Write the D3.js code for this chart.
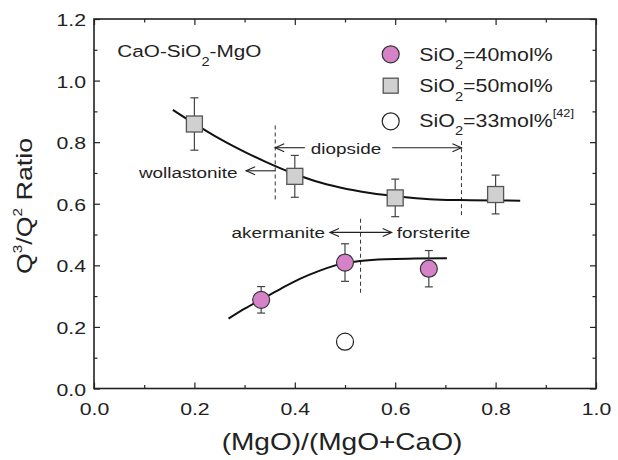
<!DOCTYPE html>
<html><head><meta charset="utf-8">
<script src="https://cdn.jsdelivr.net/npm/d3@7"></script>
<style>
html,body{margin:0;padding:0;background:#fff}
text{font-family:"Liberation Sans",Arial,Helvetica,sans-serif;fill:#222;white-space:pre}
</style>
</head><body>
<svg id="chart" width="618" height="460"></svg>
<script>
// Q3/Q2 ratio against MgO/(MgO+CaO) in CaO-SiO2-MgO glasses
const xTickValues = [0, 0.2, 0.4, 0.6, 0.8, 1.0];
const xTickLabels = ["0.0", "0.2", "0.4", "0.6", "0.8", "1.0"];
const yTickValues = [0, 0.2, 0.4, 0.6, 0.8, 1.0, 1.2];
const yTickLabels = ["0.0", "0.2", "0.4", "0.6", "0.8", "1.0", "1.2"];

// SiO2 = 40 mol%
const si40X = [0.333, 0.5, 0.667];
const si40Y = [0.288, 0.409, 0.389];
const si40Err = [0.043, 0.061, 0.059];

// SiO2 = 50 mol%
const si50X = [0.2, 0.4, 0.6, 0.8];
const si50Y = [0.859, 0.689, 0.619, 0.630];
const si50Err = [0.085, 0.068, 0.061, 0.063];

// SiO2 = 33 mol% [42]
const si33X = [0.5];
const si33Y = [0.152];

// guide curves through each series
const fit50X = [0.157, 0.199, 0.241, 0.291, 0.341, 0.390, 0.440, 0.490, 0.550, 0.610, 0.669, 0.731, 0.849];
const fit50Y = [0.905, 0.861, 0.820, 0.776, 0.737, 0.703, 0.674, 0.653, 0.635, 0.623, 0.615, 0.612, 0.610];
const fit40X = [0.268, 0.301, 0.333, 0.371, 0.410, 0.450, 0.490, 0.530, 0.580, 0.639, 0.703];
const fit40Y = [0.227, 0.260, 0.289, 0.323, 0.356, 0.383, 0.404, 0.414, 0.420, 0.422, 0.423];

// phase-field boundaries (dashed verticals)
const boundaryX  = [0.361, 0.732, 0.531];
const boundaryLo = [0.614, 0.563, 0.311];
const boundaryHi = [0.859, 0.810, 0.557];

const svg = d3.select("#chart");
const x = d3.scaleLinear().domain([0, 1]).range([94, 596]);
const y = d3.scaleLinear().domain([0, 1.2]).range([388.5, 19]);

const SX = 1.22;      // horizontal stretch of the lettering
const INK = "#222";

// text with optional sub/superscript pieces
function label(parent, px, py, parts, size, anchor, rot) {
  const tr = `translate(${px},${py})` + (rot ? ` rotate(${rot})` : "") + ` scale(${SX},1)`;
  const t = parent.append("text")
    .attr("transform", tr)
    .attr("text-anchor", anchor || "start")
    .attr("font-size", size);
  let cur = 0;
  parts.forEach(p => {
    const part = typeof p === "string" ? { t: p, s: 0 } : p;
    const ts = t.append("tspan").text(part.t).attr("dy", part.s - cur);
    if (part.size) ts.attr("font-size", part.size);
    cur = part.s;
  });
  return t;
}

// ---- axes (inward ticks on all four sides)
function styleAxis(g) {
  g.select(".domain").remove();
  g.selectAll(".tick line").attr("stroke", INK).attr("stroke-width", 1.2);
}
const minorX = [0.1, 0.3, 0.5, 0.7, 0.9];
const minorY = [0.1, 0.3, 0.5, 0.7, 0.9, 1.1];

const gB = svg.append("g").attr("transform", `translate(0,${y(0)})`)
  .call(d3.axisBottom(x).tickValues(xTickValues).tickSize(-6).tickPadding(0)
    .tickFormat((d, i) => xTickLabels[i]));
styleAxis(gB);
gB.selectAll(".tick text")
  .attr("y", null).attr("dy", null)
  .attr("font-size", 17).attr("font-family", null)
  .attr("transform", "translate(0,26) scale(1.25,1)")
  .attr("text-anchor", "middle").attr("fill", INK);

const gL = svg.append("g").attr("transform", `translate(${x(0)},0)`)
  .call(d3.axisLeft(y).tickValues(yTickValues).tickSize(-6).tickPadding(0)
    .tickFormat((d, i) => yTickLabels[i]));
styleAxis(gL);
gL.selectAll(".tick text")
  .attr("x", null).attr("dy", null)
  .attr("font-size", 17).attr("font-family", null)
  .attr("transform", "translate(-8,6.5) scale(1.25,1)")
  .attr("text-anchor", "end").attr("fill", INK);

const gT = svg.append("g").attr("transform", `translate(0,${y(1.2)})`)
  .call(d3.axisTop(x).tickValues(xTickValues).tickSize(-6).tickFormat(""));
styleAxis(gT);
const gR = svg.append("g").attr("transform", `translate(${x(1)},0)`)
  .call(d3.axisRight(y).tickValues(yTickValues).tickSize(-6).tickFormat(""));
styleAxis(gR);

[[d3.axisBottom(x), `translate(0,${y(0)})`, minorX],
 [d3.axisTop(x), `translate(0,${y(1.2)})`, minorX],
 [d3.axisLeft(y), `translate(${x(0)},0)`, minorY],
 [d3.axisRight(y), `translate(${x(1)},0)`, minorY]].forEach(([ax, tr, vals]) => {
  const g = svg.append("g").attr("transform", tr)
    .call(ax.tickValues(vals).tickSize(-3.5).tickFormat(""));
  styleAxis(g);
});

svg.append("rect")
  .attr("x", x(0)).attr("y", y(1.2))
  .attr("width", x(1) - x(0)).attr("height", y(0) - y(1.2))
  .attr("fill", "none").attr("stroke", INK).attr("stroke-width", 1.6);

// ---- axis titles
label(svg, 342, 450, ["(MgO)/(MgO+CaO)"], 23, "middle");
label(svg, 32, 206, ["Q", { t: "3", s: -10, size: 12.5 }, { t: "/Q", s: 0 },
  { t: "2", s: -10, size: 12.5 }, { t: " Ratio", s: 0 }], 22, "middle", -90);

// ---- phase boundaries and labels
const plot = svg.append("g");
boundaryX.forEach((bx, i) => {
  plot.append("line")
    .attr("x1", x(bx)).attr("x2", x(bx))
    .attr("y1", y(boundaryLo[i])).attr("y2", y(boundaryHi[i]))
    .attr("stroke", "#333").attr("stroke-width", 1)
    .attr("stroke-dasharray", "4,3");
});

function arrow(x0, x1, yy, headL, headR) {
  const py = y(yy), a = x(x0), b = x(x1);
  plot.append("line").attr("x1", a).attr("x2", b).attr("y1", py).attr("y2", py)
    .attr("stroke", INK).attr("stroke-width", 1.1);
  const head = (tip, dir) => plot.append("path")
    .attr("d", `M${tip + dir * 9},${py - 4}L${tip},${py}L${tip + dir * 9},${py + 4}`)
    .attr("fill", "none").attr("stroke", INK).attr("stroke-width", 1.1);
  if (headL) head(a, 1);
  if (headR) head(b, -1);
}
arrow(0.303, 0.361, 0.707, true, false);   // wollastonite
arrow(0.361, 0.420, 0.782, true, false);   // diopside, left
arrow(0.594, 0.732, 0.782, false, true);   // diopside, right
arrow(0.470, 0.593, 0.507, true, true);    // akermanite / forsterite

label(plot, x(0.286), y(0.685), ["wollastonite"], 15.5, "end");
label(plot, x(0.432), y(0.762), ["diopside"], 15.5, "start");
label(plot, x(0.460), y(0.488), ["akermanite"], 15.5, "end");
label(plot, x(0.603), y(0.488), ["forsterite"], 15.5, "start");

label(svg, 117.3, 56.7, ["CaO-SiO", { t: "2", s: 9, size: 12 }, { t: "-MgO", s: 0 }], 17, "start");

// ---- guide curves
const line = d3.line().x(d => x(d[0])).y(d => y(d[1])).curve(d3.curveMonotoneX);
plot.append("path").attr("d", line(fit50X.map((v, i) => [v, fit50Y[i]])))
  .attr("fill", "none").attr("stroke", "#111").attr("stroke-width", 2);
plot.append("path").attr("d", line(fit40X.map((v, i) => [v, fit40Y[i]])))
  .attr("fill", "none").attr("stroke", "#111").attr("stroke-width", 2);

// ---- error bars
function errBars(xs, ys, es) {
  xs.forEach((vx, i) => {
    const px = x(vx), top = y(ys[i] + es[i]), bot = y(ys[i] - es[i]);
    const g = plot.append("g").attr("stroke", "#444").attr("stroke-width", 1.2);
    g.append("line").attr("x1", px).attr("x2", px).attr("y1", top).attr("y2", bot);
    g.append("line").attr("x1", px - 4).attr("x2", px + 4).attr("y1", top).attr("y2", top);
    g.append("line").attr("x1", px - 4).attr("x2", px + 4).attr("y1", bot).attr("y2", bot);
  });
}
errBars(si50X, si50Y, si50Err);
errBars(si40X, si40Y, si40Err);

const PINK = "#d682c9", GREY = "#d0d0d0";
const SQ = 16, R = 8.5;

plot.selectAll("rect.si50").data(si50X).join("rect").attr("class", "si50")
  .attr("x", (d) => x(d) - SQ / 2).attr("y", (d, i) => y(si50Y[i]) - SQ / 2)
  .attr("width", SQ).attr("height", SQ)
  .attr("fill", GREY).attr("stroke", "#555").attr("stroke-width", 1.3);

plot.selectAll("circle.si40").data(si40X).join("circle").attr("class", "si40")
  .attr("cx", d => x(d)).attr("cy", (d, i) => y(si40Y[i])).attr("r", R)
  .attr("fill", PINK).attr("stroke", "#333").attr("stroke-width", 1.2);

plot.selectAll("circle.si33").data(si33X).join("circle").attr("class", "si33")
  .attr("cx", d => x(d)).attr("cy", (d, i) => y(si33Y[i])).attr("r", R)
  .attr("fill", "#fff").attr("stroke", "#222").attr("stroke-width", 1.2);

// ---- legend
const leg = svg.append("g");
leg.append("circle").attr("cx", 390.7).attr("cy", 54.3).attr("r", R)
  .attr("fill", PINK).attr("stroke", "#333").attr("stroke-width", 1.2);
leg.append("rect").attr("x", 390.7 - 7.5).attr("y", 85.7 - 7.5).attr("width", 15).attr("height", 15)
  .attr("fill", GREY).attr("stroke", "#555").attr("stroke-width", 1.3);
leg.append("circle").attr("cx", 390.7).attr("cy", 121.3).attr("r", R)
  .attr("fill", "#fff").attr("stroke", "#222").attr("stroke-width", 1.2);

const sub = { t: "2", s: 8.5, size: 12 };
label(leg, 419.3, 60.7, ["SiO", sub, { t: "=40mol%", s: 0 }], 17.5, "start");
label(leg, 419.3, 92.3, ["SiO", sub, { t: "=50mol%", s: 0 }], 17.5, "start");
label(leg, 419.3, 126.7, ["SiO", sub, { t: "=33mol%", s: 0 }, { t: "[42]", s: -9.5, size: 10.5 }], 17.5, "start");
</script>
</body></html>
